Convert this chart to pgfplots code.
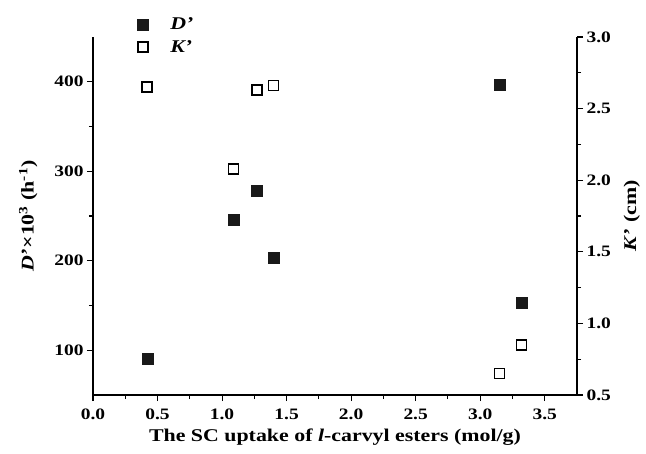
\documentclass[border=0pt]{standalone}
\usepackage{fontspec}
\setmainfont{Liberation Serif}[FakeStretch=1.22]
\usepackage{pgfplots}
\pgfplotsset{compat=1.18}

\begin{document}
\begin{tikzpicture}
\pgfplotsset{
  every axis/.append style={
    scale only axis, width=484bp, height=358bp,
    xmin=0, xmax=3.75,
    tick label style={font=\fontsize{16}{18}\selectfont\bfseries},
    label style={font=\fontsize{18}{20}\selectfont\bfseries},
    tick align=outside, minor tick num=1,
    major tick length=6bp, minor tick length=4bp,
    every tick/.style={black, line width=1.1pt},
    axis line style={line width=1.3pt, -},
    /pgf/number format/assume math mode=true,
  },
}
\begin{axis}[
  axis x line*=bottom, axis y line*=left,
  ymin=50, ymax=450,
  ytick={100,200,300,400},
  xtick={0,0.5,...,3.5},
  xticklabel style={yshift=-4bp, /pgf/number format/.cd, fixed, fixed zerofill, precision=1},
  xlabel={The SC uptake of \textit{l}-carvyl esters (mol/g)},
  ylabel={\textit{D}'×10\textsuperscript{3} (h\textsuperscript{-1})},
  xlabel shift=3bp,
  ylabel shift=10bp,
]
\addplot[only marks, mark=square*, mark size=5.5bp, mark options={fill=black!90, draw=black!90}]
  coordinates {(0.42,91) (1.09,246) (1.27,278) (1.40,203) (3.15,397) (3.32,153)};
\end{axis}
\begin{axis}[
  axis x line=none, axis y line*=right,
  ymin=0.5, ymax=3.0,
  ytick={0.5,1.0,...,3.0},
  yticklabel style={/pgf/number format/.cd, fixed, fixed zerofill, precision=1},
  ylabel={\textit{K}' (cm)},
  ylabel shift=6bp,
  legend style={draw=none, fill=none, at={(0.085,1.065)}, anchor=north west,
    row sep=5bp, column sep=20bp, font=\fontsize{18}{20}\selectfont\bfseries\itshape},
  legend cell align=left,
]
\addlegendimage{only marks, mark=square*, mark size=5.5bp, mark options={fill=black!90, draw=black!90}}
\addlegendentry{D'}
\addplot[only marks, mark=square, mark size=5bp, mark options={draw=black, line width=1.6pt, fill=white}]
  coordinates {(0.42,2.65) (1.09,2.08) (1.27,2.63) (1.40,2.66) (3.15,0.65) (3.32,0.85)};
\addlegendentry{K'}
\end{axis}
\path (current axis.south west) ++(-93bp,-59bp) (current axis.north east) ++(69bp,37bp);
\end{tikzpicture}
\end{document}
